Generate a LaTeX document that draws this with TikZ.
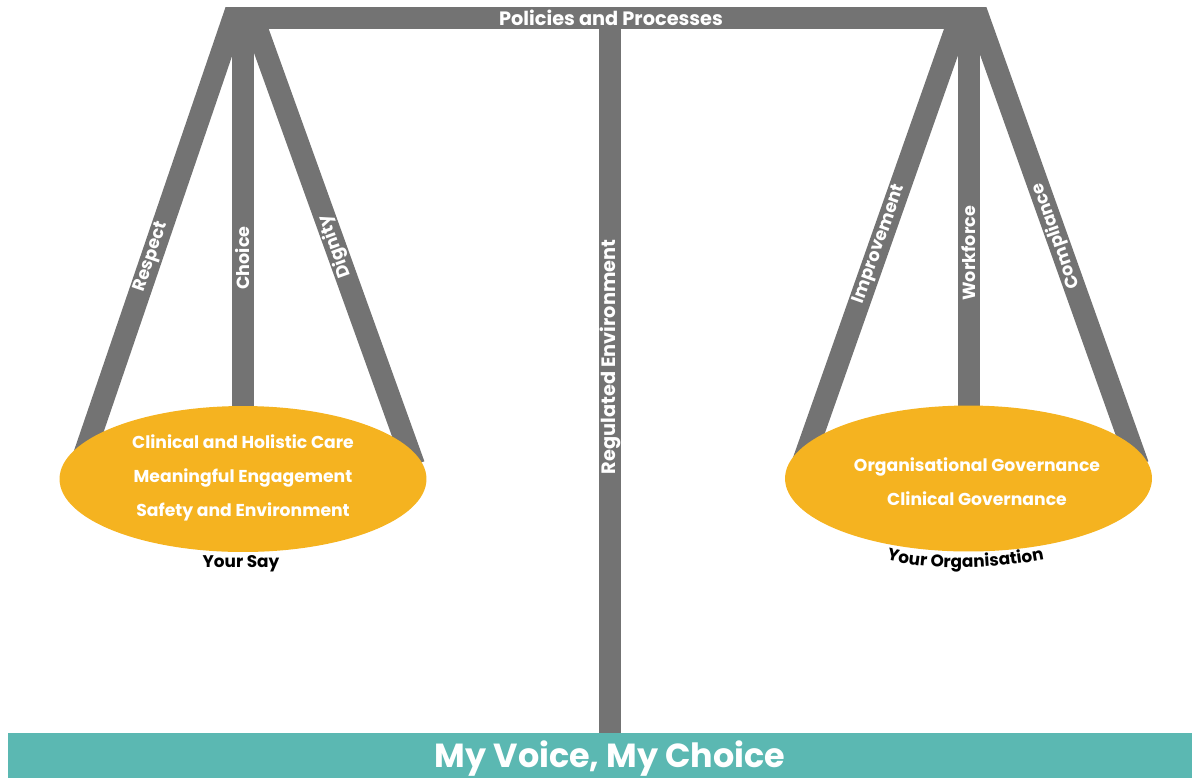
\documentclass[tikz,border=0pt]{standalone}
\usepackage{fontspec}
\setmainfont{Poppins}
\usetikzlibrary{
    positioning,
    calc,
    shapes.geometric,
    backgrounds,
    decorations.text
}

\definecolor{beamgray}{HTML}{737373}
\definecolor{pangold}{HTML}{F5B320}
\definecolor{baseteal}{HTML}{5BB8B2}

\newcommand{\captionfont}{\bfseries\fontsize{9.6}{11}\selectfont}

\tikzset{
    % --- Gray bars of the balance (hangers and post) ---
    strut/.style = {
        draw=beamgray, line width=4.4mm
    },
    % --- Horizontal beam on top ---
    beam/.style = {
        rectangle, fill=beamgray, inner sep=0pt,
        minimum width=14.54cm, minimum height=0.44cm
    },
    % --- Pan of the balance ---
    pan/.style = {
        ellipse, fill=pangold, inner sep=0pt,
        minimum width=7.34cm, minimum height=2.92cm
    },
    % --- White text inside a pan ---
    pan text/.style = {
        text=white, align=center, inner sep=0pt,
        font=\bfseries\fontsize{9.8}{19.3}\selectfont
    },
    % --- White label running along a hanger ---
    bar label/.style = {
        text=white, inner sep=0pt,
        font=\bfseries\fontsize{10}{11}\selectfont
    },
    % --- Bigger label on the beam and the post ---
    main label/.style = {
        bar label, font=\bfseries\fontsize{11}{12}\selectfont
    },
    % --- Black caption under a pan ---
    caption/.style = {
        text=black, inner sep=0pt, font=\captionfont
    },
    % --- Teal base line ---
    base/.style = {
        rectangle, fill=baseteal, inner sep=0pt,
        minimum width=23.68cm, minimum height=0.9cm
    },
    base text/.style = {
        text=white, inner sep=0pt,
        font=\bfseries\fontsize{19}{22}\selectfont
    }
}

\begin{document}
\begin{tikzpicture}[x=0.02cm, y=-0.02cm]

\useasboundingbox (0,0) rectangle (1192,778);

% ---------------------------------------------------------
% Pans
% ---------------------------------------------------------
\node[pan] (PanL) at (243,479) {};
\node[pan text] (PanL_txt) at (243,478) {%
    Clinical and Holistic Care\\
    Meaningful Engagement\\
    Safety and Environment
};

\node[pan] (PanR) at (968.5,478.5) {};
\node[pan text] (PanR_txt) at (977,482) {%
    Organisational Governance\\
    Clinical Governance
};

% ---------------------------------------------------------
% Beam, post and base
% ---------------------------------------------------------
\node[base] (Base) at (600,755.5) {};
\node[base text] (BaseTxt) at (610,759) {My Voice, My Choice};

\node[beam] (Beam) at (605.5,18) {};
\node[main label] (BeamTxt) at (611,18) {Policies and Processes};

\coordinate (PostTop) at (610,29);

% ---------------------------------------------------------
% Apexes and feet of the hangers
% ---------------------------------------------------------
\coordinate (ApexL) at (243,-10);
\coordinate (ApexR) at (969,-9);

\coordinate (FootL1) at (79,470);
\coordinate (FootL2) at (414,465);
\coordinate (FootR1) at (802,465);
\coordinate (FootR2) at (1138,465);

\begin{pgfonlayer}{background}
\begin{scope}
    \clip (0,7) rectangle (1192,778);

    % left pan: Your Say
    \draw[strut] (FootL1) -- (ApexL)
        node[bar label, pos=0.444, sloped, allow upside down] {Respect};
    \draw[strut] (PanL.center) -- (PanL.center |- ApexL)
        node[bar label, pos=0.452, sloped, allow upside down] {Choice};
    \draw[strut] (FootL2) -- (ApexL)
        node[bar label, pos=0.46, sloped, allow upside down] {Dignity};

    % right pan: Your Organisation
    \draw[strut] (FootR1) -- (ApexR)
        node[bar label, pos=0.466, sloped, allow upside down] {Improvement};
    \draw[strut] (PanR.center) -- (PanR.center |- ApexR)
        node[bar label, pos=0.462, sloped, allow upside down] {Workforce};
    \draw[strut] (FootR2) -- (ApexR)
        node[bar label, pos=0.483, sloped, allow upside down] {Compliance};
\end{scope}

% centre post
\draw[strut] (PostTop |- Base.north) -- (PostTop)
    node[main label, pos=0.534, sloped, allow upside down] {Regulated Environment};
\end{pgfonlayer}

% ---------------------------------------------------------
% Captions
% ---------------------------------------------------------
\node[caption] (SayTxt) at (241,564) {Your Say};

\path[decorate, decoration={text along path, text align=center,
        text={|\captionfont|Your Organisation}}]
    (880,558) .. controls (922,571) and (988,571) .. (1051,558);

\end{tikzpicture}
\end{document}
